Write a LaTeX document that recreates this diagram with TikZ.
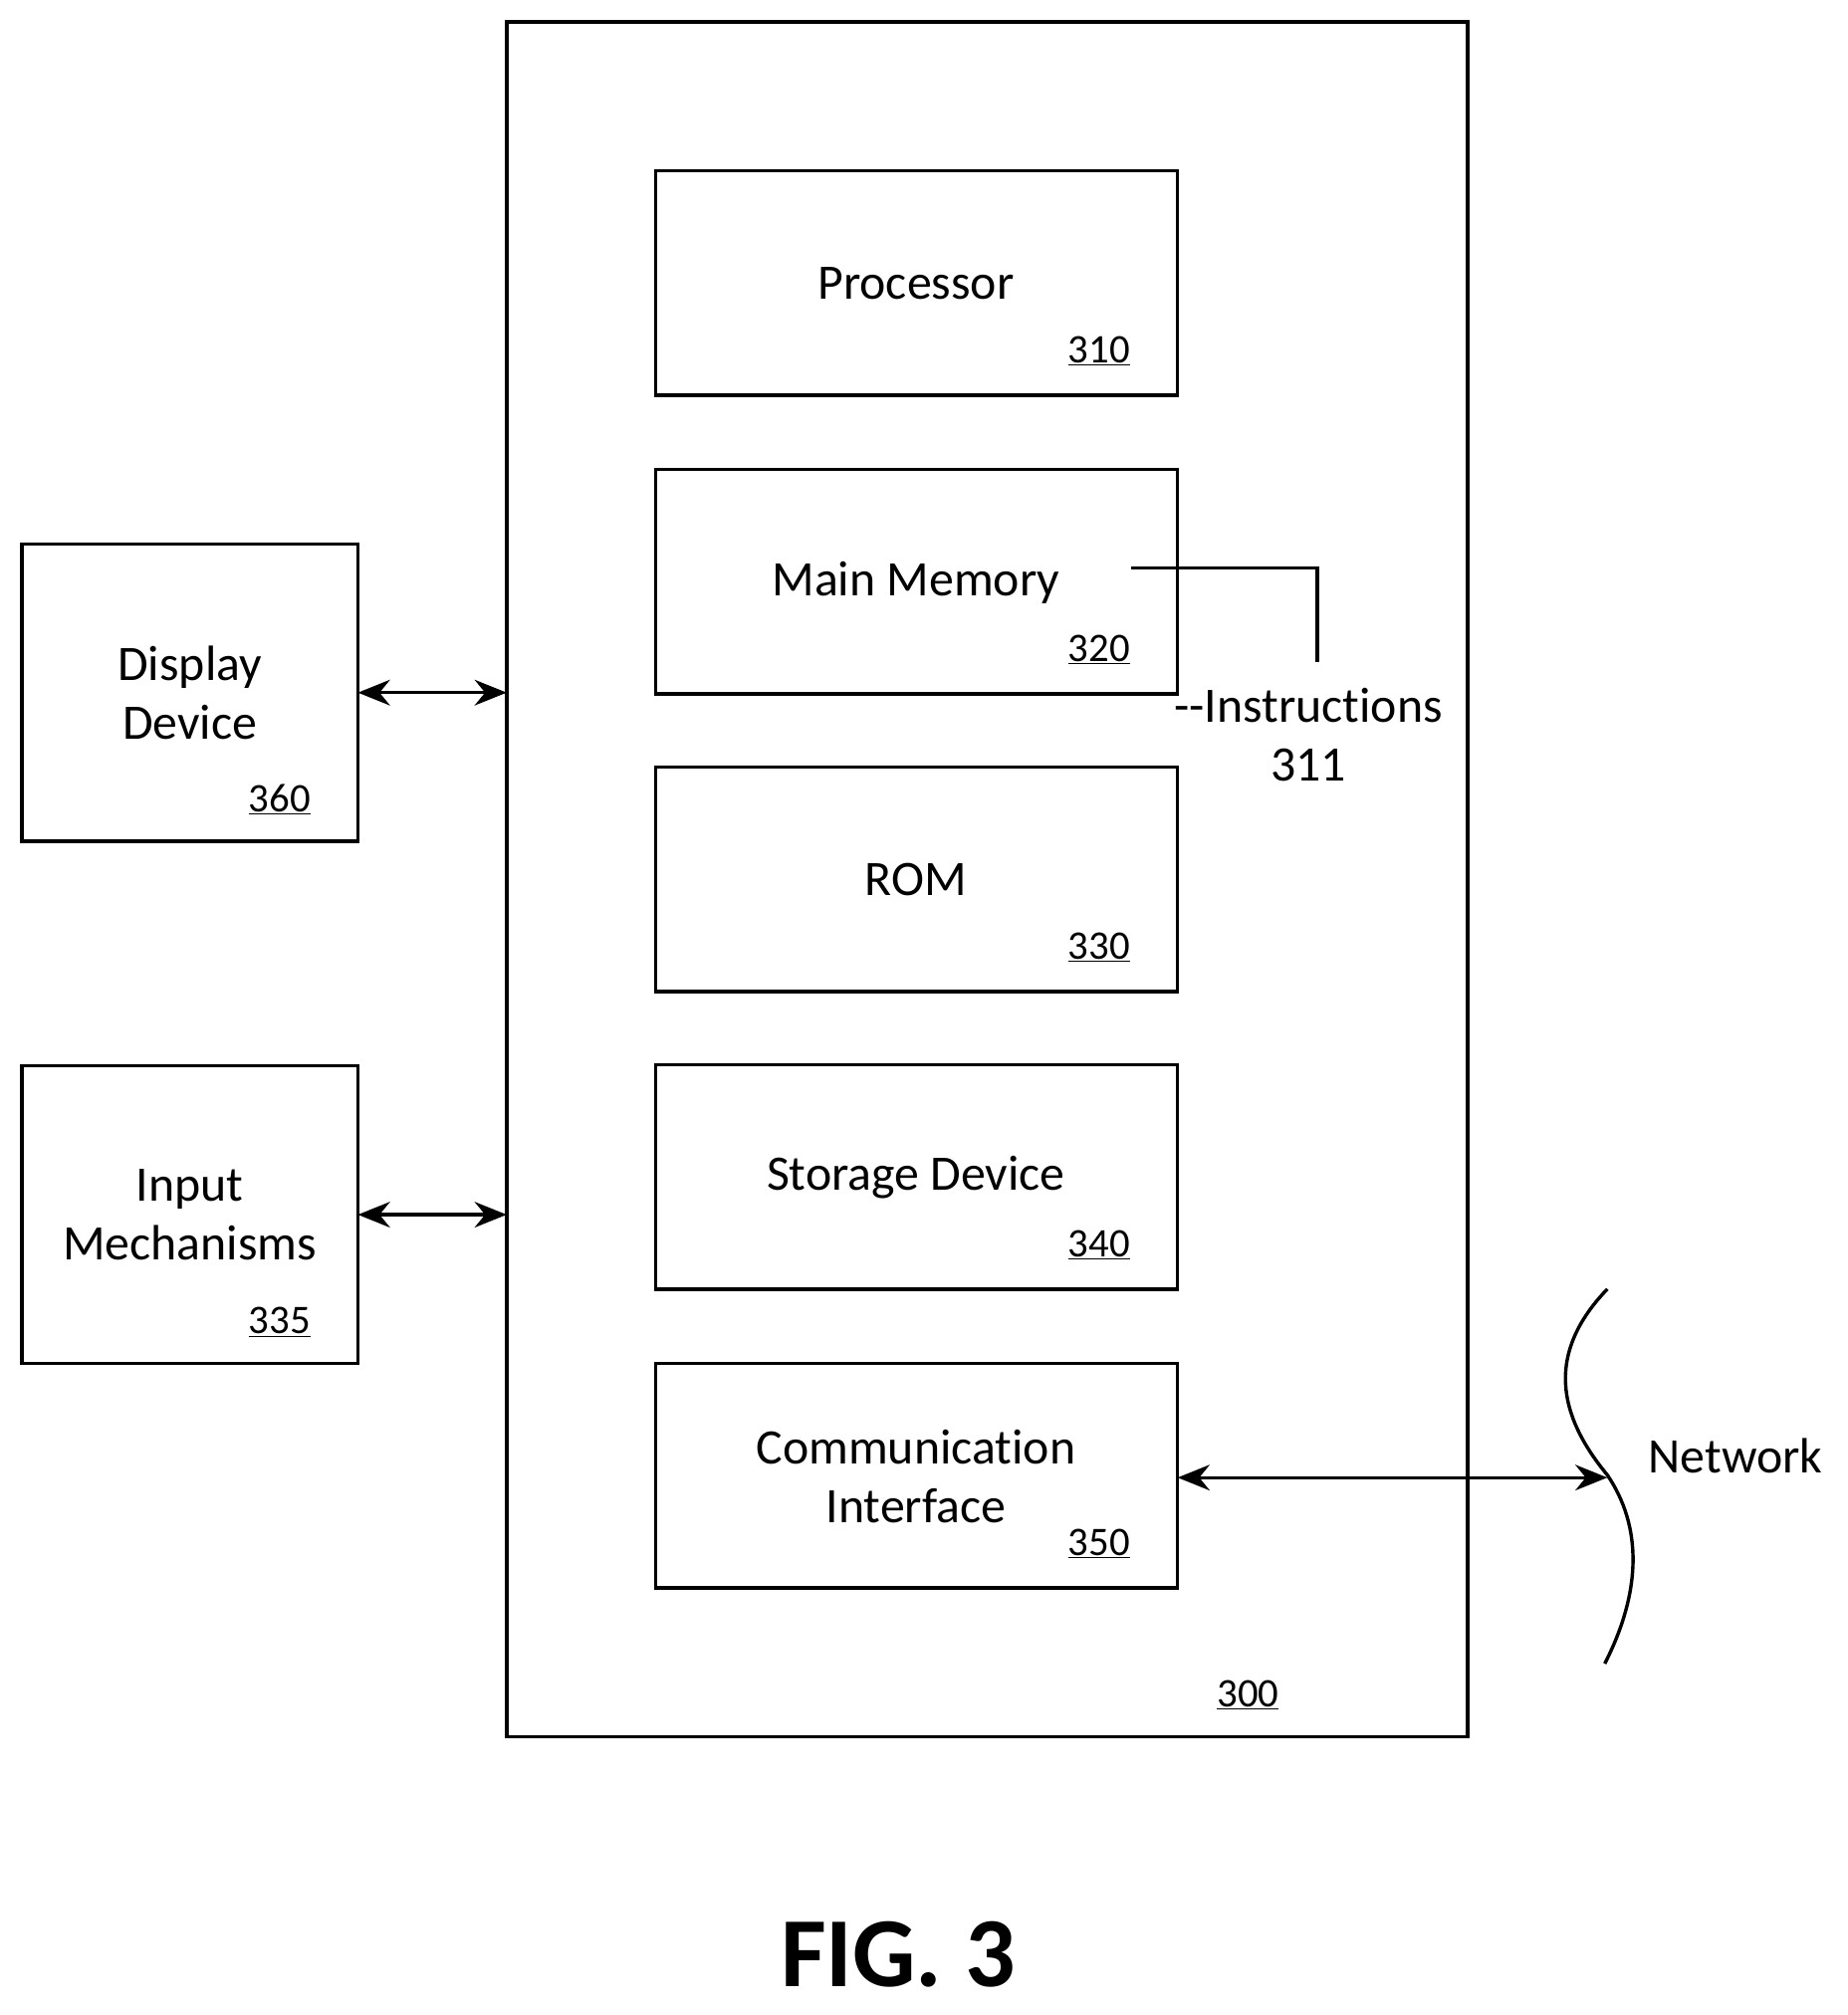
\documentclass[tikz,border=0pt]{standalone}
\usepackage{fontspec}
\setmainfont{Carlito}[Ligatures={NoCommon}]
\usetikzlibrary{arrows.meta}
\begin{document}
\begin{tikzpicture}[x=0.4mm,y=-0.4mm,
  box/.style={draw,line width=3pt},
  lbl/.style={font=\fontsize{44}{52}\selectfont,align=center},
  num/.style={font=\fontsize{36}{40}\selectfont,anchor=base east},
  conn/.style={line width=3pt,{Stealth[length=10mm,width=8mm]}-{Stealth[length=10mm,width=8mm]}}]
\useasboundingbox (0,0) rectangle (1440,1571);
\draw[box] (395,17) rectangle (1144,1354);
\node[num] (n300) at (1000,1331) {\underline{300}};
\foreach \n/\t/\y/\num in {p/Processor/133/310,m/Main Memory/366/320,r/ROM/598/330,s/Storage Device/830/340,c/{Communication\\Interface}/1063/350}{
  \draw[box] (511,\y) rectangle (918,\y+175);
  \node[lbl] (\n) at (714,\y+88) {\t};
  \node[num] (\n num) at (884,\y+150) {\underline{\num}};
}
\draw[box] (17,424) rectangle (279,656);
\node[lbl] (disp) at (148,540) {Display\\Device};
\node[num] (dnum) at (245,633) {\underline{360}};
\draw[box] (17,831) rectangle (279,1063);
\node[lbl] (inp) at (148,947) {Input\\Mechanisms};
\node[num] (inum) at (245,1040) {\underline{335}};
\coordinate (d1) at (279,540); \coordinate (d2) at (395,540);
\coordinate (i1) at (279,947); \coordinate (i2) at (395,947);
\draw[conn] (d1) -- (d2);
\draw[conn] (i1) -- (i2);
\coordinate (ins0) at (882,443); \coordinate (ins1) at (1027,516);
\draw[line width=3pt] (ins0) -| (ins1);
\node[lbl] (ins) at (1020,573) {{-}{-}Instructions\\311};
\draw[line width=3pt] (1253,1005) .. controls (1200,1060) and (1220,1110) .. (1253,1150)
  .. controls (1280,1190) and (1280,1240) .. (1251,1297);
\coordinate (c1) at (918,1152); \coordinate (c2) at (1253,1152);
\draw[conn] (c1) -- (c2);
\node[lbl] (net) at (1353,1135) {Network};
\node[font=\fontsize{88}{96}\selectfont\bfseries] (fig) at (700,1524) {FIG. 3};
\end{tikzpicture}
\end{document}
